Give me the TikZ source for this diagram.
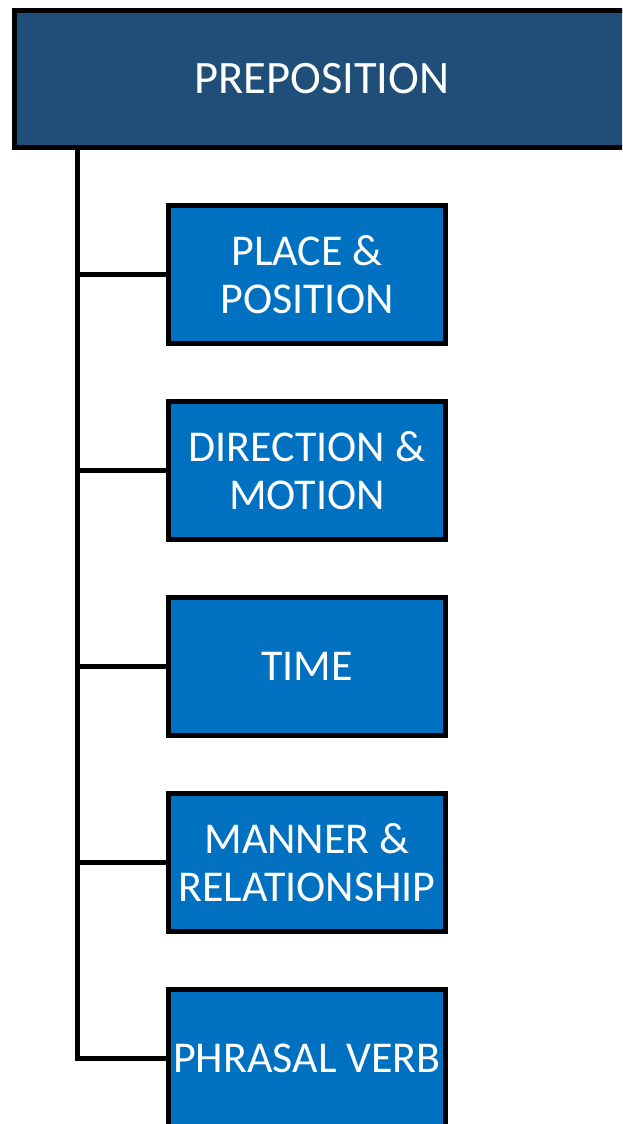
\documentclass[tikz,border=0pt]{standalone}
\usepackage{fontspec}
\setmainfont{Carlito}
\usetikzlibrary{positioning}
\definecolor{prepnavy}{RGB}{31,78,121}
\definecolor{catblue}{RGB}{0,112,192}

\begin{document}
\begin{tikzpicture}[
      x=1pt, y=1pt,
      node distance=53pt,
      catbox/.style={
        draw=black, line width=5pt, fill=catblue, text=white,
        align=center, minimum width=277pt, minimum height=138pt,
        inner sep=0pt, font=\fontsize{44}{48}\selectfont
      },
      topbox/.style={
        catbox, fill=prepnavy, minimum width=615pt, minimum height=137pt,
        font=\fontsize{46.5}{50}\selectfont
      },
      link/.style={draw=black, line width=5pt}
    ]
      \useasboundingbox (0,0) rectangle (622,-1124);
      \clip (0,0) rectangle (622,-1124);
      \node[topbox] (prep) at (322,-79) {PREPOSITION};
      \node[catbox] (place) at (307,-274.5) {PLACE \&\\POSITION};
      \node[catbox, below=of place] (dir) {DIRECTION \&\\MOTION};
      \node[catbox, below=of dir] (time) {TIME};
      \node[catbox, below=of time] (manner) {MANNER \&\\RELATIONSHIP};
      \node[catbox, below=of manner] (phrasal) {PHRASAL VERB};
      \coordinate (spine) at (77,0 |- prep.south);
      \draw[link] (spine) |- (phrasal.west);
      \foreach \n in {place,dir,time,manner}
        \draw[link] (spine |- \n.west) -- (\n.west);
    \end{tikzpicture}
\end{document}
